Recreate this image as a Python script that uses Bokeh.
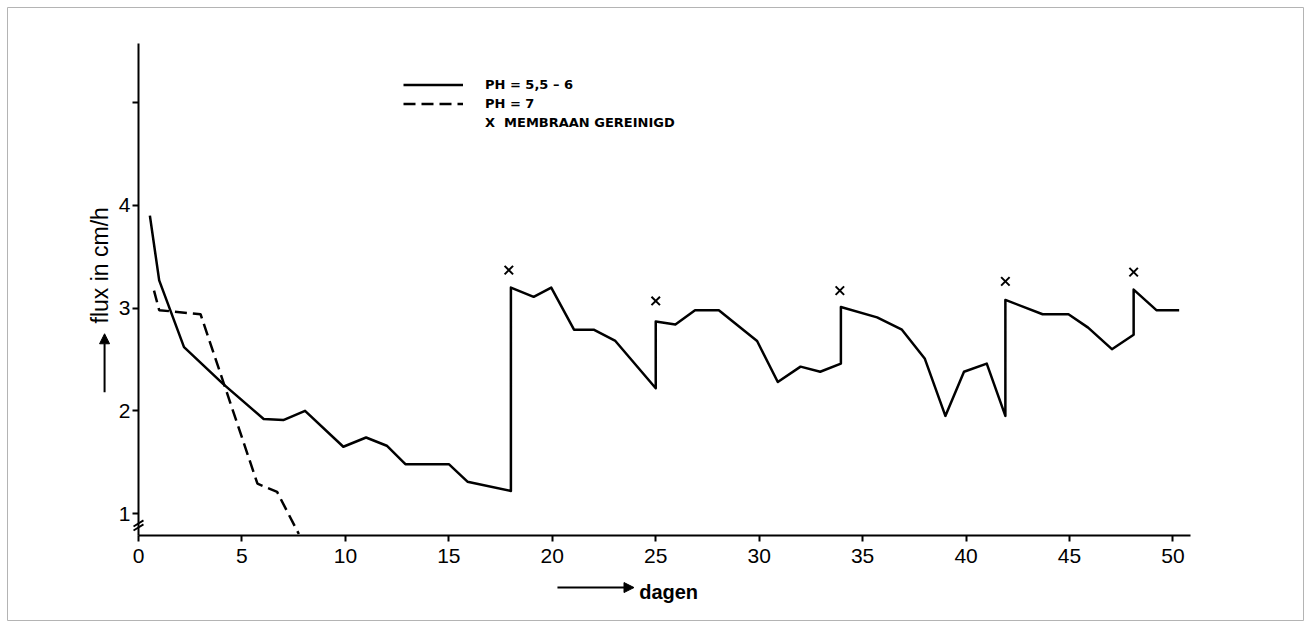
from math import pi
from bokeh.plotting import figure
from bokeh.models import (Range1d, FixedTicker, Legend, LegendItem, Label,
                          Arrow, NormalHead)
from bokeh.embed import file_html
from bokeh.resources import INLINE

# ---- data ----
days_ph6 = [0.55, 1.0, 2.2, 4.1, 6.05, 7.0, 8.05, 9.9, 11.0, 12.0,
            12.9, 15.0, 15.9, 18.0, 18.0, 19.1, 19.95, 21.05, 22.0, 23.05,
            25.0, 25.0, 25.95, 26.9, 28.05, 29.9, 30.9, 32.0, 32.95, 33.95,
            33.95, 35.7, 36.9, 38.0, 39.0, 39.9, 41.0, 41.9, 41.9, 43.7,
            44.95, 45.9, 47.05, 48.1, 48.1, 49.2, 50.3]
flux_ph6 = [3.90, 3.27, 2.62, 2.26, 1.92, 1.91, 2.00, 1.65, 1.74, 1.66,
            1.48, 1.48, 1.31, 1.22, 3.20, 3.11, 3.20, 2.79, 2.79, 2.68,
            2.22, 2.87, 2.84, 2.98, 2.98, 2.68, 2.28, 2.43, 2.38, 2.46,
            3.01, 2.91, 2.79, 2.51, 1.95, 2.38, 2.46, 1.95, 3.08, 2.94,
            2.94, 2.81, 2.60, 2.74, 3.18, 2.98, 2.98]

days_ph7 = [0.75, 1.0, 3.0, 5.75, 6.7, 7.75]
flux_ph7 = [3.17, 2.98, 2.94, 1.29, 1.21, 0.80]

clean_days = [17.9, 25.0, 33.9, 41.9, 48.1]
clean_marks = [3.37, 3.07, 3.17, 3.26, 3.35]

x_ticks = [0, 5, 10, 15, 20, 25, 30, 35, 40, 45, 50]
y_ticks = [1, 2, 3, 4, 5]
y_tick_labels = {1: "1", 2: "2", 3: "3", 4: "4", 5: ""}

legend_labels = ["PH = 5,5 – 6", "PH = 7", "X  MEMBRAAN GEREINIGD"]
x_label = "dagen"
y_label = "flux in cm/h"

# axis extents (data units)
X_AXIS_AT = 0.786
X_END = 50.85
Y_END = 5.577

# ---- figure: the frame covers the whole page, axes sit inside it ----
p = figure(width=1306, height=621, output_backend="svg", toolbar_location=None,
           x_range=Range1d(-6.332, 56.31), y_range=Range1d(-0.0516, 5.927),
           min_border_left=7, min_border_right=3,
           min_border_top=7, min_border_bottom=0)
p.background_fill_color = "white"
p.border_fill_color = "white"
p.outline_line_color = "#b4b4b4"
p.outline_line_width = 1
p.xgrid.visible = False
p.ygrid.visible = False

TICK_FONT = "Liberation Sans"
for ax in (p.xaxis[0], p.yaxis[0]):
    ax.axis_line_width = 2
    ax.axis_line_color = "black"
    ax.major_tick_line_width = 2
    ax.major_tick_line_color = "black"
    ax.major_tick_out = 6
    ax.major_tick_in = 0
    ax.minor_tick_line_color = None
    ax.major_label_text_font = TICK_FONT
    ax.major_label_text_font_size = "21px"
    ax.major_label_text_color = "black"

xa = p.xaxis[0]
xa.fixed_location = X_AXIS_AT
xa.bounds = (0, X_END)
xa.ticker = FixedTicker(ticks=x_ticks)
xa.major_label_standoff = 8

ya = p.yaxis[0]
ya.fixed_location = 0
ya.bounds = (X_AXIS_AT, Y_END)
ya.ticker = FixedTicker(ticks=y_ticks)
ya.major_label_overrides = y_tick_labels
ya.major_label_standoff = 2

solid = p.line(days_ph6, flux_ph6, line_color="black", line_width=2.5,
               line_join="round")
dashed = p.line(days_ph7, flux_ph7, line_color="black", line_width=2.5,
                line_dash="12 6")
p.scatter(clean_days, clean_marks, marker="x", size=12, line_width=2,
          line_color="black")
dummy = p.line([0], [0], line_alpha=0)

legend = Legend(items=[LegendItem(label=legend_labels[0], renderers=[solid]),
                       LegendItem(label=legend_labels[1], renderers=[dashed]),
                       LegendItem(label=legend_labels[2], renderers=[dummy])],
                location=(396, 489), orientation="vertical",
                glyph_width=60, glyph_height=19, label_height=19,
                label_standoff=22, spacing=0, padding=0, margin=0,
                border_line_color=None, background_fill_alpha=0,
                label_text_font="DejaVu Sans", label_text_font_style="bold",
                label_text_font_size="13px", label_text_color="black")
p.add_layout(legend, "center")

# axis titles with arrows
p.add_layout(Label(x=24.2, y=0.231, text=x_label, text_font=TICK_FONT,
                   text_font_size="20px", text_font_style="bold",
                   text_align="left", text_baseline="alphabetic",
                   text_color="black"))
p.add_layout(Arrow(end=NormalHead(size=10, fill_color="black", line_color="black"),
                   x_start=20.25, y_start=0.279, x_end=23.95, y_end=0.279,
                   line_width=2, line_color="black"))
p.add_layout(Label(x=-1.84, y=2.85, text=y_label, text_font=TICK_FONT,
                   text_font_size="23px", angle=pi / 2,
                   text_align="left", text_baseline="alphabetic",
                   text_color="black"))
p.add_layout(Arrow(end=NormalHead(size=10, fill_color="black", line_color="black"),
                   x_start=-1.64, y_start=2.18, x_end=-1.64, y_end=2.75,
                   line_width=2, line_color="black"))

# axis-break mark on the y axis
p.segment(x0=[-0.24, -0.24], y0=[0.834, 0.873], x1=[0.24, 0.24],
          y1=[0.894, 0.933], line_width=1.8, line_color="black")

open("out.html", "w").write(file_html(p, INLINE))
